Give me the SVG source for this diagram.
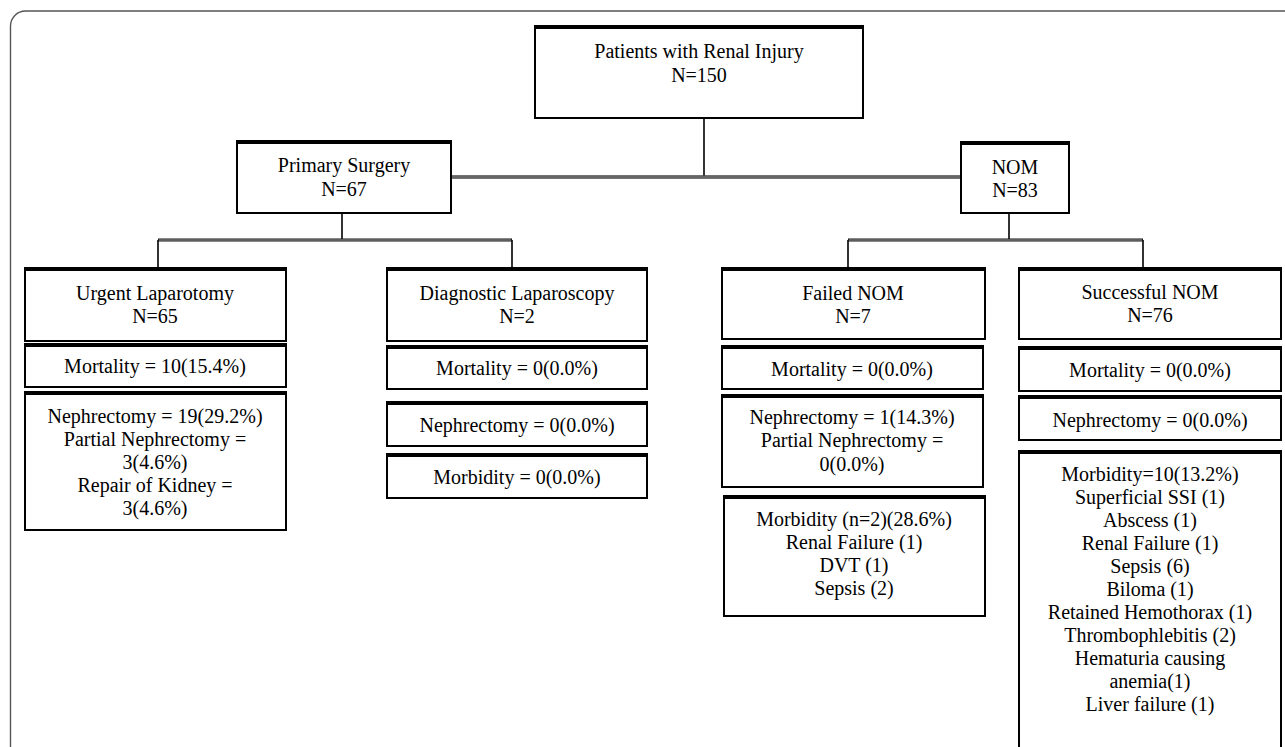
<svg xmlns="http://www.w3.org/2000/svg" width="1285" height="747" viewBox="0 0 1285 747">
<style>
.box{fill:#fff;stroke:#000;stroke-width:2}
.top{stroke:#000;stroke-width:4}
.topi{stroke:#777;stroke-width:0.8}
.t{font-family:"Liberation Serif","Times New Roman",serif;font-size:20px;text-anchor:middle;fill:#000}
.thin{fill:none;stroke:#000;stroke-width:1.6}
.brk{fill:none;stroke:#111;stroke-width:3}
.brki{fill:none;stroke:#aaa;stroke-width:1}
.main{fill:none;stroke:#444;stroke-width:3.5}
.maini{fill:none;stroke:#888;stroke-width:1}
</style>
<rect width="1285" height="747" fill="#fff"/>
<path d="M10.5 747 V26 A15 15 0 0 1 25.5 11 H1285" fill="none" stroke="#555" stroke-width="1.4"/>
<g id="connectors">
<path class="thin" d="M704 118 V177"/>
<path class="main" d="M451 177 H961"/>
<path class="maini" d="M451 177 H961"/>
<path class="thin" d="M342 213 V240 M158 240 V270 M512 240 V270"/>
<path class="brk" d="M158 240 H512"/>
<path class="brki" d="M159 240 H511"/>
<path class="thin" d="M1009 213 V240 M848 240 V270 M1143 240 V270"/>
<path class="brk" d="M848 240 H1143"/>
<path class="brki" d="M849 240 H1142"/>
</g>
<g id="root">
<rect class="box" x="535" y="28" width="328" height="90"/>
<line class="top" x1="534" y1="27" x2="864" y2="27"/>
<text class="t" x="699" y="58">Patients with Renal Injury</text>
<text class="t" x="699" y="82">N=150</text>
</g>
<g id="primary">
<rect class="box" x="237" y="143" width="214" height="70"/>
<line class="top" x1="236" y1="142" x2="452" y2="142"/>
<text class="t" x="344" y="172">Primary Surgery</text>
<text class="t" x="344" y="196">N=67</text>
</g>
<g id="nom">
<rect class="box" x="961" y="144" width="108" height="69"/>
<line class="top" x1="960" y1="143" x2="1070" y2="143"/>
<text class="t" x="1015" y="174">NOM</text>
<text class="t" x="1015" y="197">N=83</text>
</g>
<g id="urgent">
<rect class="box" x="25" y="270" width="261" height="71"/>
<line class="top" x1="24" y1="269" x2="287" y2="269"/>
<text class="t" x="155" y="300">Urgent Laparotomy</text>
<text class="t" x="155" y="323">N=65</text>
</g>
<g id="urgent_mortality">
<rect class="box" x="25" y="345" width="261" height="42"/>
<line class="top" x1="24" y1="345" x2="287" y2="345"/>
<text class="t" x="155" y="373">Mortality = 10(15.4%)</text>
</g>
<g id="urgent_nephrectomy">
<rect class="box" x="25" y="393" width="261" height="137"/>
<line class="top" x1="24" y1="393" x2="287" y2="393"/>
<text class="t" x="155" y="423">Nephrectomy = 19(29.2%)</text>
<text class="t" x="155" y="446">Partial Nephrectomy =</text>
<text class="t" x="155" y="469">3(4.6%)</text>
<text class="t" x="155" y="492">Repair of Kidney =</text>
<text class="t" x="155" y="515">3(4.6%)</text>
</g>
<g id="diagnostic">
<rect class="box" x="387" y="270" width="260" height="71"/>
<line class="top" x1="386" y1="269" x2="648" y2="269"/>
<text class="t" x="517" y="300">Diagnostic Laparoscopy</text>
<text class="t" x="517" y="323">N=2</text>
</g>
<g id="diagnostic_mortality">
<rect class="box" x="387" y="347" width="260" height="42"/>
<line class="top" x1="386" y1="347" x2="648" y2="347"/>
<text class="t" x="517" y="375">Mortality = 0(0.0%)</text>
</g>
<g id="diagnostic_nephrectomy">
<rect class="box" x="387" y="403" width="260" height="43"/>
<line class="top" x1="386" y1="403" x2="648" y2="403"/>
<text class="t" x="517" y="432">Nephrectomy = 0(0.0%)</text>
</g>
<g id="diagnostic_morbidity">
<rect class="box" x="387" y="455" width="260" height="43"/>
<line class="top" x1="386" y1="455" x2="648" y2="455"/>
<text class="t" x="517" y="484">Morbidity = 0(0.0%)</text>
</g>
<g id="failed">
<rect class="box" x="722" y="270" width="263" height="69"/>
<line class="top" x1="721" y1="269" x2="986" y2="269"/>
<text class="t" x="853" y="300">Failed NOM</text>
<text class="t" x="853" y="323">N=7</text>
</g>
<g id="failed_mortality">
<rect class="box" x="722" y="347" width="261" height="42"/>
<line class="top" x1="721" y1="347" x2="984" y2="347"/>
<text class="t" x="852" y="376">Mortality = 0(0.0%)</text>
</g>
<g id="failed_nephrectomy">
<rect class="box" x="722" y="396" width="261" height="91"/>
<line class="top" x1="721" y1="396" x2="984" y2="396"/>
<text class="t" x="852" y="424">Nephrectomy = 1(14.3%)</text>
<text class="t" x="852" y="447">Partial Nephrectomy =</text>
<text class="t" x="852" y="471">0(0.0%)</text>
</g>
<g id="failed_morbidity">
<rect class="box" x="724" y="497" width="261" height="119"/>
<line class="top" x1="723" y1="497" x2="986" y2="497"/>
<text class="t" x="854" y="526">Morbidity (n=2)(28.6%)</text>
<text class="t" x="854" y="549">Renal Failure (1)</text>
<text class="t" x="854" y="572">DVT (1)</text>
<text class="t" x="854" y="595">Sepsis (2)</text>
</g>
<g id="successful">
<rect class="box" x="1019" y="270" width="262" height="69"/>
<line class="top" x1="1018" y1="269" x2="1282" y2="269"/>
<text class="t" x="1150" y="299">Successful NOM</text>
<text class="t" x="1150" y="322">N=76</text>
</g>
<g id="successful_mortality">
<rect class="box" x="1019" y="348" width="262" height="43"/>
<line class="top" x1="1018" y1="348" x2="1282" y2="348"/>
<text class="t" x="1150" y="377">Mortality = 0(0.0%)</text>
</g>
<g id="successful_nephrectomy">
<rect class="box" x="1019" y="397" width="262" height="43"/>
<line class="top" x1="1018" y1="397" x2="1282" y2="397"/>
<text class="t" x="1150" y="427">Nephrectomy = 0(0.0%)</text>
</g>
<g id="successful_morbidity">
<rect class="box" x="1019" y="452" width="262" height="310"/>
<line class="top" x1="1018" y1="452" x2="1282" y2="452"/>
<text class="t" x="1150" y="481">Morbidity=10(13.2%)</text>
<text class="t" x="1150" y="504">Superficial SSI (1)</text>
<text class="t" x="1150" y="527">Abscess (1)</text>
<text class="t" x="1150" y="550">Renal Failure (1)</text>
<text class="t" x="1150" y="573">Sepsis (6)</text>
<text class="t" x="1150" y="596">Biloma (1)</text>
<text class="t" x="1150" y="619">Retained Hemothorax (1)</text>
<text class="t" x="1150" y="642">Thrombophlebitis (2)</text>
<text class="t" x="1150" y="665">Hematuria causing</text>
<text class="t" x="1150" y="688">anemia(1)</text>
<text class="t" x="1150" y="711">Liver failure (1)</text>
</g>
</svg>
